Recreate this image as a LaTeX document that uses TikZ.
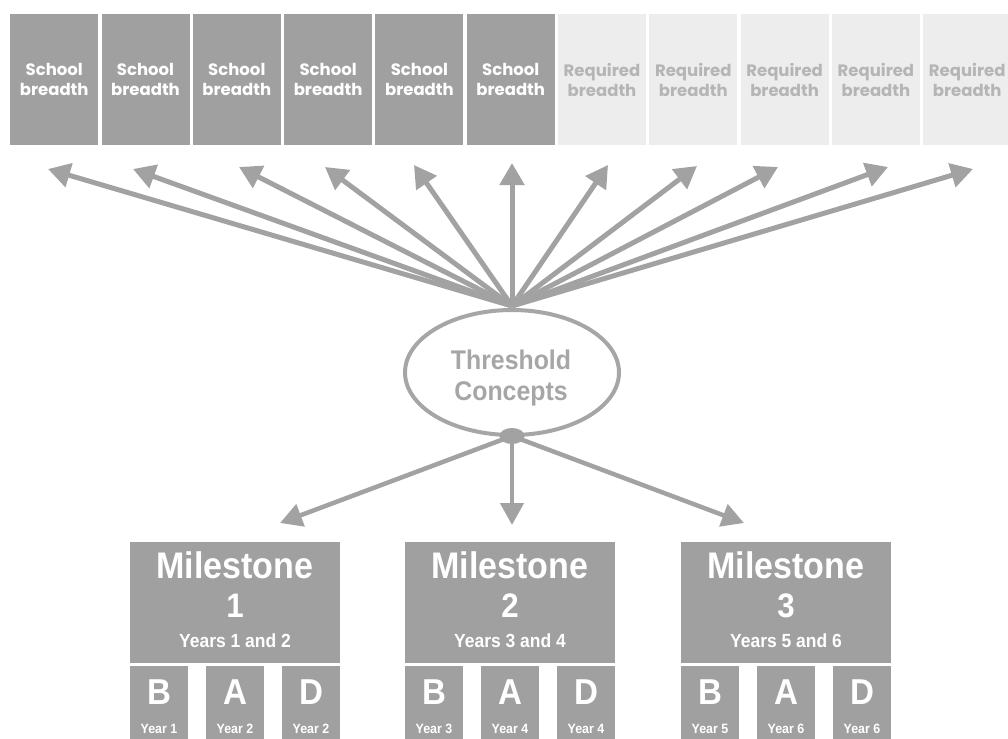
\documentclass[tikz,border=0pt]{standalone}
\usepackage{fontspec}
\setmainfont{Liberation Sans}
\newfontfamily\topfont{Poppins}
\newfontfamily\cfont{Liberation Sans}[FakeStretch=0.92]
\usetikzlibrary{arrows.meta,shapes.geometric}
\definecolor{dk}{HTML}{A0A0A0}
\definecolor{lt}{HTML}{EDEDED}
\definecolor{lttext}{HTML}{B5B5B5}
\definecolor{arrc}{HTML}{A2A2A2}
\definecolor{ellc}{HTML}{A6A6A6}
\begin{document}
\begin{tikzpicture}[x=1pt,y=-1pt,
  schoolbox/.style={fill=dk, text=white, minimum width=88pt, minimum height=131pt,
    inner sep=0pt, anchor=north west, align=center,
    font=\topfont\bfseries\fontsize{16.5}{20}\selectfont},
  reqbox/.style={schoolbox, fill=lt, text=lttext},
  fanarrow/.style={draw=arrc, line width=5pt, -{Triangle[length=22pt,width=24pt]}},
  lowarrow/.style={draw=arrc, line width=4.5pt, -{Triangle[length=22pt,width=23pt]}},
  msbox/.style={fill=dk, minimum width=210pt, minimum height=121pt, inner sep=0pt, anchor=north west},
  yrbox/.style={fill=dk, minimum width=58pt, minimum height=80pt, inner sep=0pt, anchor=north west},
  mstitle/.style={text=white, anchor=base, inner sep=0pt, font=\cfont\bfseries\fontsize{37}{40}\selectfont},
  msnum/.style={text=white, anchor=base, inner sep=0pt, font=\cfont\bfseries\fontsize{34}{38}\selectfont},
  msyears/.style={text=white, anchor=base, inner sep=0pt, font=\cfont\bfseries\fontsize{19}{22}\selectfont},
  letter/.style={text=white, anchor=base, inner sep=0pt, font=\cfont\bfseries\fontsize{36}{40}\selectfont},
  yrlabel/.style={text=white, anchor=base, inner sep=0pt, font=\cfont\bfseries\fontsize{13.5}{15}\selectfont},
  tctext/.style={text=ellc, anchor=base, inner sep=0pt, font=\cfont\bfseries\fontsize{27}{30}\selectfont}
]
\useasboundingbox (0,0) rectangle (1008,738);

% top boxes
\foreach \i in {0,...,5}
  \node[schoolbox] (s\i) at ({10+91.3*\i},14) {School\\breadth};
\foreach \i in {6,...,10}
  \node[reqbox] (s\i) at ({10+91.3*\i},14) {Required\\breadth};

% threshold ellipse
\node[draw=ellc, line width=4pt, ellipse, minimum width=214pt, minimum height=125pt, inner sep=0pt] (tc) at (512,372.5) {};
\node[tctext] (tc1) at (511,369) {Threshold};
\node[tctext] (tc2) at (511,400) {Concepts};

% fan of arrows
\coordinate (fan) at (512,306);
\foreach \k/\x/\y in {0/48/169, 1/133/169, 2/239/167, 3/325/167, 4/414/165, 5/512/163,
                      6/608/165, 7/697/166, 8/778/167, 9/888/167, 10/973/169} {
  \coordinate (t\k) at (\x,\y);
  \draw[fanarrow] (fan) -- (t\k);
}

% dot and lower arrows
\node[fill=arrc, ellipse, minimum width=25pt, minimum height=16pt, inner sep=0pt] (dot) at (512,436) {};
\coordinate (l1) at (280,523);
\coordinate (l2) at (512,525);
\coordinate (l3) at (744,523);
\draw[lowarrow] (dot.center) -- (l1);
\draw[lowarrow] (dot.center) -- (l2);
\draw[lowarrow] (dot.center) -- (l3);

% milestones
\foreach \n/\L/\ya/\yb in {1/130/1/2, 2/405/3/4, 3/681/5/6} {
  \node[msbox] (m\n) at (\L,542) {};
  \node[mstitle] (m\n t) at (\L+105,578) {Milestone};
  \node[msnum] (m\n n) at (\L+105,617) {\n};
  \node[msyears] (m\n y) at (\L+105,647) {Years \ya\ and \yb};
  \node[yrbox] (m\n b) at (\L,666) {};
  \node[yrbox] (m\n a) at (\L+76,666) {};
  \node[yrbox] (m\n d) at (\L+152,666) {};
  \node[letter] (m\n bl) at (\L+29,704) {B};
  \node[letter] (m\n al) at (\L+105,704) {A};
  \node[letter] (m\n dl) at (\L+181,704) {D};
  \node[yrlabel] (m\n by) at (\L+29,733) {Year \ya};
  \node[yrlabel] (m\n ay) at (\L+105,733) {Year \yb};
  \node[yrlabel] (m\n dy) at (\L+181,733) {Year \yb};
}
\end{tikzpicture}
\end{document}
